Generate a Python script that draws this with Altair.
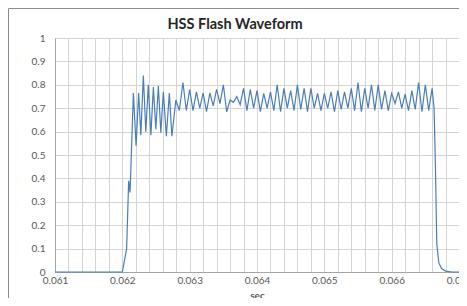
import altair as alt
import pandas as pd

sec = [
    0.06100, 0.06200, 0.062064, 0.062094, 0.062114, 0.062123,
    0.062164, 0.062204, 0.062242, 0.062275, 0.062312, 0.062349,
    0.062386, 0.062424, 0.062461, 0.062498, 0.062535, 0.062572,
    0.062609, 0.062654, 0.062698, 0.062736, 0.062795, 0.062847,
    0.06290, 0.06295, 0.06300, 0.06305, 0.06310, 0.06315, 0.06320, 0.06325,
    0.06330, 0.06335, 0.06340, 0.06345, 0.06350, 0.06355, 0.06360, 0.06365,
    0.06370, 0.06375, 0.06380, 0.06385, 0.06390, 0.06395, 0.06400, 0.06405,
    0.06410, 0.06415, 0.06420, 0.06425, 0.06430, 0.06435, 0.06440, 0.06445,
    0.06450, 0.06455, 0.06460, 0.06465, 0.06470, 0.06475, 0.06480, 0.06485,
    0.06490, 0.06495, 0.06500, 0.06505, 0.06510, 0.06515, 0.06520, 0.06525,
    0.06530, 0.06535, 0.06540, 0.06545, 0.06550, 0.06555, 0.06560, 0.06565,
    0.06570, 0.06575, 0.06580, 0.06585, 0.06590, 0.06595, 0.06600, 0.06605,
    0.06610, 0.06615, 0.06620, 0.06625, 0.06630, 0.06635, 0.06640, 0.06645,
    0.06650, 0.06655, 0.06660,
    0.06663, 0.06665, 0.06667, 0.06670, 0.06674, 0.06680, 0.06690, 0.06700,
]

volts = [
    0.0, 0.0, 0.10, 0.39, 0.34, 0.41,
    0.765, 0.54, 0.765, 0.585, 0.84, 0.60,
    0.80, 0.585, 0.79, 0.61, 0.795, 0.595,
    0.77, 0.58, 0.765, 0.58, 0.735, 0.69,
    0.81, 0.69, 0.78, 0.69, 0.77, 0.70, 0.765, 0.685,
    0.765, 0.71, 0.78, 0.72, 0.80, 0.685, 0.735, 0.725,
    0.75, 0.715, 0.785, 0.69, 0.78, 0.70, 0.775, 0.685,
    0.763, 0.70, 0.77, 0.69, 0.80, 0.685, 0.785, 0.70,
    0.775, 0.69, 0.80, 0.695, 0.785, 0.685, 0.785, 0.70,
    0.763, 0.69, 0.763, 0.70, 0.77, 0.685, 0.775, 0.695,
    0.77, 0.70, 0.785, 0.69, 0.81, 0.685, 0.785, 0.70,
    0.80, 0.69, 0.80, 0.695, 0.775, 0.69, 0.763, 0.72,
    0.77, 0.70, 0.76, 0.69, 0.775, 0.695, 0.81, 0.685,
    0.80, 0.69, 0.785,
    0.70, 0.45, 0.12, 0.04, 0.015, 0.004, 0.0, 0.0,
]

x_grid = [
    0.0610, 0.0612, 0.0614, 0.0616, 0.0618, 0.0620, 0.0622, 0.0624, 0.0626, 0.0628,
    0.0630, 0.0632, 0.0634, 0.0636, 0.0638, 0.0640, 0.0642, 0.0644, 0.0646, 0.0648,
    0.0650, 0.0652, 0.0654, 0.0656, 0.0658, 0.0660, 0.0662, 0.0664, 0.0666, 0.0668,
    0.0670,
]
y_ticks = [0, 0.1, 0.2, 0.3, 0.4, 0.5, 0.6, 0.7, 0.8, 0.9, 1.0]
title_text = ["HSS Flash Waveform"]

df = pd.DataFrame({"sec": sec, "v": volts})
FONT = "Lato"

border = alt.Chart(pd.DataFrame({"a": [0]})).mark_rect(
    fill=None, stroke="#8c8c8c", strokeWidth=1
).encode(
    x=alt.value(-46.5), x2=alt.value(520),
    y=alt.value(-29.5), y2=alt.value(400),
)

title = alt.Chart(pd.DataFrame({"t": title_text})).mark_text(
    font=FONT, fontSize=14.5, fontWeight="bold", color="#262626",
    align="center", baseline="middle",
).encode(text="t:N", x=alt.value(180), y=alt.value(-13))

line = alt.Chart(df).mark_line(color="#4a7ebb", strokeWidth=1.2).encode(
    x=alt.X(
        "sec:Q",
        scale=alt.Scale(domain=[0.061, 0.067], nice=False, zero=False),
        axis=alt.Axis(
            values=x_grid,
            labelExpr="abs(datum.value*1000 - round(datum.value*1000)) < 0.000001 ? format(datum.value, '.3f') : ''",
            title="sec",
            titleFont=FONT, titleFontSize=10, titleFontWeight="bold",
            titleColor="#595959", titlePadding=5,
            labelFont=FONT, labelFontSize=10, labelColor="#595959",
            labelPadding=3, tickSize=0, labelOverlap=False, labelFlush=False,
            domainColor="#a6a6a6", gridColor="#d4d4d4",
        ),
    ),
    y=alt.Y(
        "v:Q",
        scale=alt.Scale(domain=[0, 1], nice=False),
        axis=alt.Axis(
            values=y_ticks, format="~g", title=None,
            labelFont=FONT, labelFontSize=10, labelColor="#595959",
            labelPadding=10, tickSize=0,
            domainColor="#a6a6a6", gridColor="#d4d4d4",
        ),
    ),
)

chart = alt.layer(border, line, title).properties(
    width=404, height=234,
    padding={"left": 47, "top": 30, "right": 0, "bottom": 26},
    autosize=alt.AutoSizeParams(type="none"),
).configure_view(stroke=None).configure(background="white")

chart.save("out.html", embed_options={"renderer": "svg", "actions": False})
